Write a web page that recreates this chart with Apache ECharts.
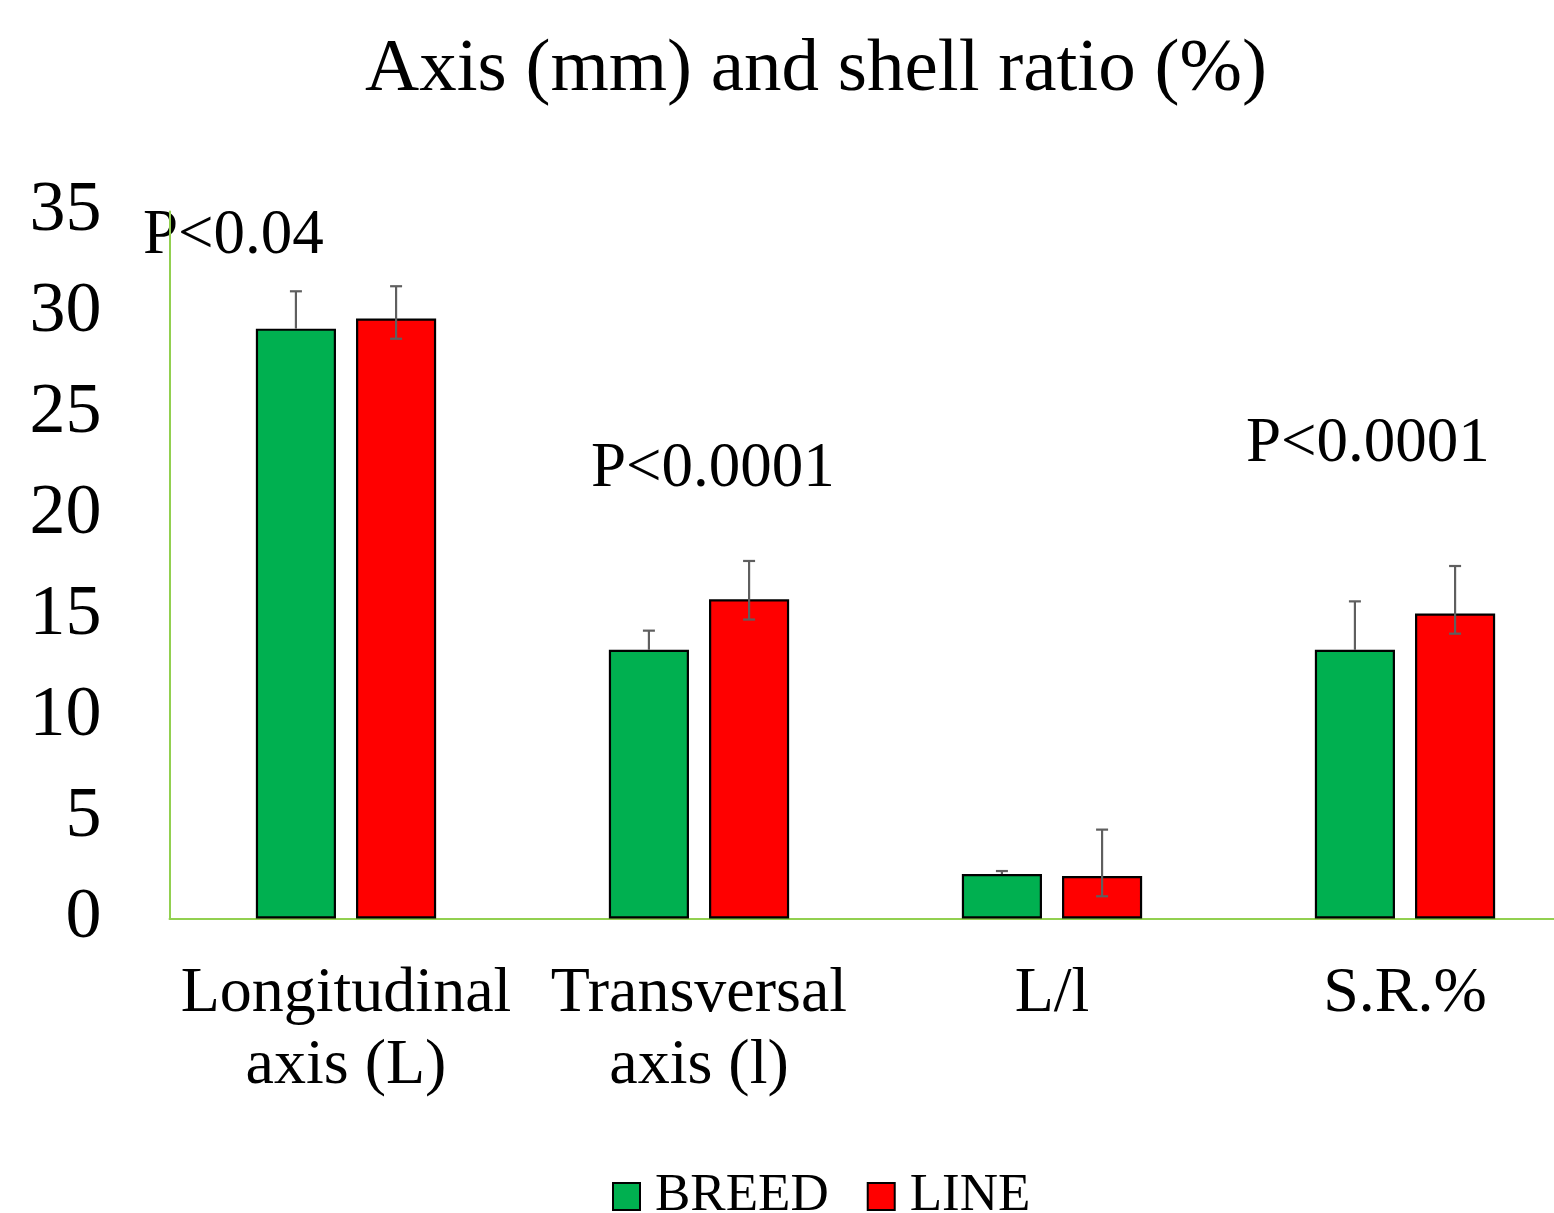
<!DOCTYPE html>
<html>
<head>
<meta charset="utf-8">
<script src="https://cdn.jsdelivr.net/npm/echarts@6/dist/echarts.min.js"></script>
<style>
html,body{margin:0;padding:0;background:#fff;}
#chart{width:1554px;height:1213px;}
</style>
</head>
<body>
<div id="chart"></div>
<script>
const categories = ['Longitudinal\naxis (L)', 'Transversal\naxis (l)', 'L/l', 'S.R.%'];
const seriesNames = ['BREED', 'LINE'];
const breedValues = [29.2, 13.3, 2.2, 13.3];
const lineValues = [29.7, 15.8, 2.1, 15.1];
const breedUpper = [31.05, 14.25, 2.35, 15.7];
const breedLower = [29.2, 13.3, 2.2, 13.3];
const lineUpper = [31.3, 17.7, 4.4, 17.45];
const lineLower = [28.7, 14.8, 1.1, 14.1];
const yTicks = [0, 5, 10, 15, 20, 25, 30, 35];
const pLabels = ['P<0.04', 'P<0.0001', 'P<0.0001'];

const FONT = '"Liberation Serif", "Times New Roman", serif';
const BAR_FRAC = 0.227;
const GAP_FRAC = 0.25;

function errData(values, lower, upper) {
  return values.map((v, i) => [i, lower[i], upper[i], v]);
}

function makeErrRender(sign) {
  return function (params, api) {
    const idx = api.value(0);
    const lo = api.value(1);
    const hi = api.value(2);
    const val = api.value(3);
    const band = api.size([1, 0])[0];
    const barW = band * BAR_FRAC;
    const off = sign * (barW / 2 + barW * GAP_FRAC / 2);
    const pHi = api.coord([idx, hi]);
    const pLo = api.coord([idx, lo]);
    const x = pHi[0] + off;
    const capHalf = 6;
    const style = { stroke: '#5f5f5f', lineWidth: 2.2, fill: null };
    const children = [
      { type: 'line', shape: { x1: x, y1: pHi[1], x2: x, y2: pLo[1] }, style: style },
      { type: 'line', shape: { x1: x - capHalf, y1: pHi[1], x2: x + capHalf, y2: pHi[1] }, style: style }
    ];
    if (lo < val) {
      children.push({ type: 'line', shape: { x1: x - capHalf, y1: pLo[1], x2: x + capHalf, y2: pLo[1] }, style: style });
    }
    return { type: 'group', children: children };
  };
}

const chart = echarts.init(document.getElementById('chart'), null, { renderer: 'canvas' });
const option = {
  backgroundColor: '#ffffff',
  animation: false,
  title: {
    text: 'Axis (mm) and shell ratio (%)',
    left: 360,
    top: 22,
    textStyle: { fontFamily: FONT, fontSize: 75, fontWeight: 'normal', color: '#000', lineHeight: 86 }
  },
  legend: {
    data: seriesNames,
    left: 612,
    top: 1157,
    padding: 0,
    itemWidth: 27,
    itemHeight: 27,
    itemGap: 38,
    icon: 'rect',
    textStyle: { fontFamily: FONT, fontSize: 53, color: '#000', lineHeight: 53, padding: [26, 0, 0, 10] }
  },
  grid: { left: 169.5, width: 1412, top: 211.5, bottom: 294.5, containLabel: false, outerBoundsMode: 'none' },
  xAxis: {
    type: 'category',
    data: categories,
    axisLine: { show: true, lineStyle: { color: '#92D050', width: 2 } },
    axisTick: { show: false },
    axisLabel: {
      interval: 0,
      margin: 40,
      fontFamily: FONT,
      fontSize: 64,
      color: '#000',
      lineHeight: 72,
      verticalAlign: 'top'
    }
  },
  yAxis: {
    type: 'value',
    min: yTicks[0],
    max: yTicks[yTicks.length - 1],
    interval: 5,
    splitLine: { show: false },
    axisLine: { show: true, lineStyle: { color: '#92D050', width: 2 } },
    axisTick: { show: false },
    axisLabel: { fontFamily: FONT, fontSize: 72, color: '#000', margin: 68 }
  },
  series: [
    {
      name: seriesNames[0],
      type: 'bar',
      data: breedValues,
      barWidth: (BAR_FRAC * 100) + '%',
      barGap: (GAP_FRAC * 100) + '%',
      itemStyle: { color: '#00B050', borderColor: '#000', borderWidth: 2.2 }
    },
    {
      name: seriesNames[1],
      type: 'bar',
      data: lineValues,
      barWidth: (BAR_FRAC * 100) + '%',
      barGap: (GAP_FRAC * 100) + '%',
      itemStyle: { color: '#FF0000', borderColor: '#000', borderWidth: 2.2 }
    },
    {
      name: 'BREED err',
      type: 'custom',
      renderItem: makeErrRender(-1),
      data: errData(breedValues, breedLower, breedUpper),
      encode: { x: 0, y: [1, 2] },
      z: 10,
      silent: true
    },
    {
      name: 'LINE err',
      type: 'custom',
      renderItem: makeErrRender(1),
      data: errData(lineValues, lineLower, lineUpper),
      encode: { x: 0, y: [1, 2] },
      z: 10,
      silent: true
    }
  ],
  graphic: [
    { type: 'text', left: 143, top: 205, style: { text: pLabels[0], font: '63px ' + FONT, fill: '#000' } },
    { type: 'text', left: 591, top: 438, style: { text: pLabels[1], font: '63px ' + FONT, fill: '#000' } },
    { type: 'text', left: 1246, top: 413, style: { text: pLabels[2], font: '63px ' + FONT, fill: '#000' } }
  ]
};
chart.setOption(option);
</script>
</body>
</html>
